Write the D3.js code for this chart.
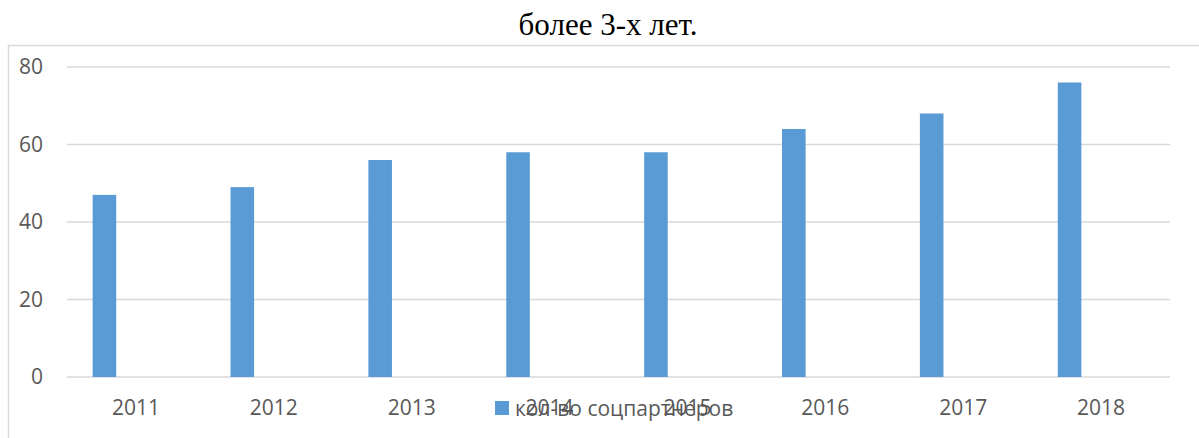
<!DOCTYPE html>
<html>
<head>
<meta charset="utf-8">
<script src="https://cdn.jsdelivr.net/npm/d3@7"></script>
<style>
  body { margin: 0; background: #fff; }
  svg { display: block; }
</style>
</head>
<body>
<svg id="canvas" width="1199" height="438"></svg>
<script>
let years = ["2011", "2012", "2013", "2014", "2015", "2016", "2017", "2018"];
let partners = [47, 49, 56, 58, 58, 64, 68, 76];
let yTicks = [0, 20, 40, 60, 80];
let seriesName = "кол-во соцпартнеров";
let titleText = "более 3-х лет.";

let svg = d3.select("#canvas");
let labelFont = "'Open Sans', sans-serif";

// chart frame
svg.append("rect")
  .attr("x", 8.5)
  .attr("y", 45.5)
  .attr("width", 1200)
  .attr("height", 420)
  .attr("fill", "none")
  .attr("stroke", "#d9d9d9")
  .attr("stroke-width", 1.5);

svg.append("text")
  .attr("x", 608)
  .attr("y", 35)
  .attr("text-anchor", "middle")
  .attr("font-family", "'Liberation Serif', 'Times New Roman', serif")
  .attr("font-size", 31)
  .attr("fill", "#000")
  .text(titleText);

let x = d3.scaleBand().domain(years).range([67, 1170]);
let y = d3.scaleLinear().domain([0, 80]).range([377, 67]);

// gridlines
svg.append("g")
  .selectAll("line")
  .data(yTicks)
  .enter()
  .append("line")
  .attr("x1", 67)
  .attr("x2", 1170)
  .attr("y1", (d) => y(d))
  .attr("y2", (d) => y(d))
  .attr("stroke", "#d9d9d9")
  .attr("stroke-width", 1.5);

let yAxis = svg.append("g")
  .attr("transform", "translate(43,0)")
  .call(d3.axisLeft(y).tickValues(yTicks).tickSize(0).tickPadding(0));
yAxis.select(".domain").remove();
yAxis.selectAll("text")
  .attr("font-family", labelFont)
  .attr("font-size", 21)
  .attr("fill", "#595959");

// bars sit in the left part of each category slot
svg.append("g")
  .selectAll("rect")
  .data(partners)
  .enter()
  .append("rect")
  .attr("x", (d, i) => x(years[i]) + x.bandwidth() * 0.186)
  .attr("y", (d) => y(d))
  .attr("width", x.bandwidth() * 0.171)
  .attr("height", (d) => y(0) - y(d))
  .attr("fill", "#5b9bd5");

let xAxis = svg.append("g")
  .attr("transform", "translate(0,377)")
  .call(d3.axisBottom(x).tickSize(0).tickPadding(23));
xAxis.select(".domain").remove();
xAxis.selectAll("text")
  .attr("font-family", labelFont)
  .attr("font-size", 21)
  .attr("fill", "#595959");

// legend (drawn over the axis labels, as in the source)
let legend = svg.append("g").attr("transform", "translate(495,401)");
legend.append("rect")
  .attr("width", 14)
  .attr("height", 14)
  .attr("fill", "#5b9bd5");
legend.append("text")
  .attr("x", 20)
  .attr("y", 7)
  .attr("dy", "0.36em")
  .attr("font-family", labelFont)
  .attr("font-size", 21)
  .attr("fill", "#595959")
  .text(seriesName);
</script>
</body>
</html>
